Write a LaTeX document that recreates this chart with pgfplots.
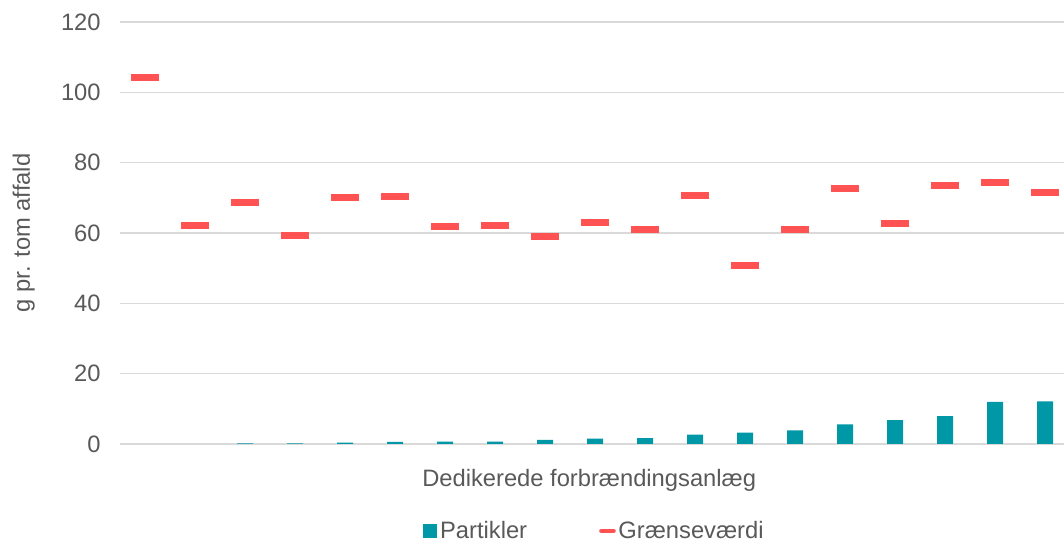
\documentclass[border=0pt]{standalone}
\usepackage{fontspec}
\setmainfont{Liberation Sans}
\usepackage{pgfplots}
\pgfplotsset{compat=1.18}
\definecolor{teal1}{HTML}{0098A6}
\definecolor{red1}{HTML}{FF5353}
\definecolor{txt}{HTML}{595959}
\definecolor{grd}{HTML}{D9D9D9}
\begin{document}
\begin{tikzpicture}
\begin{axis}[
  name=ax,
  scale only axis,
  width=708pt, height=316.5pt,
  xmin=0.5, xmax=19.38,
  ymin=0, ymax=120,
  ytick={0,20,...,120},
  xtick=\empty,
  ymajorgrids,
  grid style={grd, line width=1.1pt},
  axis line style={draw=none},
  tick style={draw=none},
  clip=false,
  font=\fontsize{17.8}{21}\selectfont,
  /pgf/number format/assume math mode=true,
  yticklabel style={text=txt, xshift=-11pt},
  ylabel={g pr. tom affald},
  ylabel style={text=txt, at={(axis description cs:-0.102,0.5)}, anchor=center},
  xlabel={Dedikerede forbrændingsanlæg},
  xlabel style={text=txt, at={(axis description cs:0.497,-0.087)}, anchor=center},
  legend style={at={(axis description cs:0.503,-0.206)}, anchor=center, draw=none,
    legend columns=2, text=txt, font=\fontsize{17.8}{21}\selectfont,
    /tikz/every even column/.append style={column sep=52pt}},
  legend cell align=left,
]
\addplot[ybar, bar width=12pt, bar shift=0pt, fill=teal1, draw=none, area legend,
  legend image code/.code={\fill[teal1] (0pt,-5.25pt) rectangle (10.5pt,5.25pt);}]
  coordinates {(3,0.15) (4,0.15) (5,0.4) (6,0.6) (7,0.7) (8,0.7) (9,1.2) (10,1.5)
  (11,1.7) (12,2.7) (13,3.2) (14,3.9) (15,5.6) (16,6.8) (17,7.9) (18,12.0) (19,12.1)};
\addlegendentry{Partikler}
\addplot[only marks, mark=-, mark size=10.75pt, red1, line width=5.2pt, line cap=butt,
  legend image code/.code={\draw[red1, line width=3.5pt, line cap=round] (0pt,0pt) -- (9pt,0pt);}]
  coordinates {(1,104.3) (2,62.1) (3,68.8) (4,59.3) (5,70.1) (6,70.5) (7,61.9) (8,62.1) (9,59.0) (10,63.1)
  (11,61.0) (12,70.7) (13,50.8) (14,60.9) (15,72.7) (16,62.7) (17,73.6) (18,74.4) (19,71.5)};
\addlegendentry{Grænseværdi}
\end{axis}
\pgfresetboundingbox
\path (ax.south west) ++(-90pt,-75.75pt) rectangle ++(798pt,408.75pt);
\end{tikzpicture}
\end{document}
